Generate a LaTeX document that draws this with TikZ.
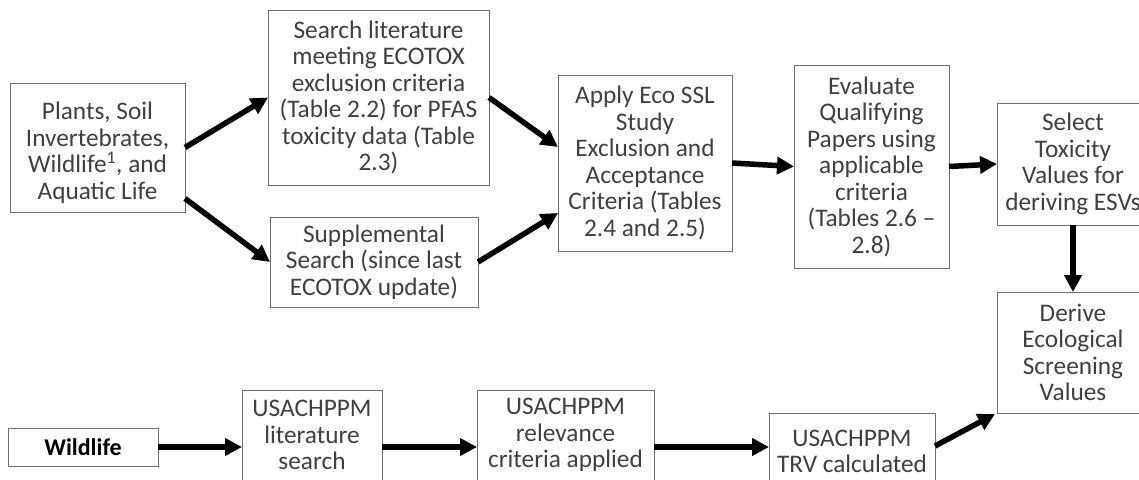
\documentclass[tikz,border=0pt]{standalone}
\usepackage{fontspec}
\setmainfont{Carlito}
\usetikzlibrary{arrows.meta,calc}
\definecolor{txtgray}{HTML}{404040}
\definecolor{boxgray}{HTML}{707070}
\tikzset{
  box/.style={draw=boxgray, line width=0.9pt, rectangle, inner sep=0pt, outer sep=0pt, fill=none},
  txt/.style={align=center, inner sep=0pt, text=txtgray, font=\fontsize{25.3}{26.5}\selectfont},
  arr/.style={line width=5.5pt, -{Triangle[length=17pt,width=17pt]}, black}
}
\begin{document}
\begin{tikzpicture}[x=1pt,y=-1pt]
\clip (0,0) rectangle (1139,479);
\fill[white] (0,0) rectangle (1139,479);
% boxes
\node[box, minimum width=175pt, minimum height=129pt] (plants) at (97.5,147.5) {};
\node[box, minimum width=221pt, minimum height=175pt] (search) at (378.5,97.5) {};
\node[box, minimum width=208pt, minimum height=90pt] (supp) at (374,262) {};
\node[box, minimum width=174pt, minimum height=176pt] (apply) at (645,163) {};
\node[box, minimum width=155pt, minimum height=203pt] (eval) at (871.5,166.5) {};
\node[box, minimum width=152pt, minimum height=122pt] (select) at (1073,164) {};
\node[box, minimum width=152pt, minimum height=121pt] (derive) at (1073,352.5) {};
\node[box, minimum width=150pt, minimum height=38pt] (wild) at (83,447) {};
\node[box, minimum width=140pt, minimum height=130pt] (lit) at (312,455) {};
\node[box, minimum width=177pt, minimum height=130pt] (rel) at (565.5,455) {};
\node[box, minimum width=166pt, minimum height=120pt] (trv) at (852,473) {};
% texts
\node[txt] (plantsT) at (97.5,153) {Plants, Soil\\Invertebrates,\\Wildlife\textsuperscript{1}, and\\Aquatic Life};
\node[txt] (searchT) at (search.center) {Search literature\\meeting ECOTOX\\exclusion criteria\\(Table 2.2) for PFAS\\toxicity data (Table\\2.3)};
\node[txt] (suppT) at (supp.center) {Supplemental\\Search (since last\\ECOTOX update)};
\node[txt] (applyT) at (apply.center) {Apply Eco SSL\\Study\\Exclusion and\\Acceptance\\Criteria (Tables\\2.4 and 2.5)};
\node[txt] (evalT) at (eval.center) {Evaluate\\Qualifying\\Papers using\\applicable\\criteria\\(Tables 2.6 --\\2.8)};
\node[txt] (selectT) at (select.center) {Select\\Toxicity\\Values for\\deriving ESVs};
\node[txt] (deriveT) at (derive.center) {Derive\\Ecological\\Screening\\Values};
\node[txt, text=black, font=\bfseries\fontsize{24}{26}\selectfont] (wildT) at (wild.center) {Wildlife};
\node[txt] (litT) at (312,435) {USACHPPM\\literature\\search};
\node[txt] (relT) at (565.5,435) {USACHPPM\\relevance\\criteria applied};
\node[txt] (trvT) at (852,451.5) {USACHPPM\\TRV calculated};
% arrows
\draw[arr] (plants.east) -- (search.west);
\draw[arr] ($(plants.east)+(0,51)$) -- (supp.west);
\draw[arr] (search.east) -- ($(apply.west)+(0,-16)$);
\draw[arr] (supp.east) -- ($(apply.west)+(0,50)$);
\draw[arr] (apply.east) -- (eval.west);
\draw[arr] (eval.east) -- (select.west);
\draw[arr] (select.south) -- (derive.north);
\draw[arr] (wild.east) -- (wild.east -| lit.west);
\draw[arr] (wild.east -| lit.east) -- (wild.east -| rel.west);
\draw[arr] (wild.east -| rel.east) -- (wild.east -| trv.west);
\draw[arr] ($(trv.north east)+(0,33)$) -- ($(derive.south west)+(-2,1)$);
\end{tikzpicture}
\end{document}
